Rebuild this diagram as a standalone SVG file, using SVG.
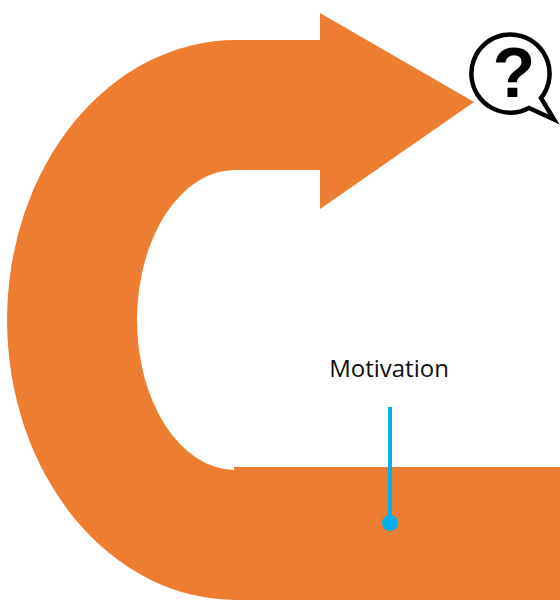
<svg xmlns="http://www.w3.org/2000/svg" width="560" height="606" viewBox="0 0 560 606">
<style>
.band{fill:#ed7d31}
.lead{stroke:#00b0f0;stroke-width:4;fill:none}
.dot{fill:#00b0f0}
.label{font-family:"Open Sans","Liberation Sans",sans-serif;font-size:24px;fill:#111}
</style>
<rect width="560" height="606" fill="#fff"/>
<g id="arrow">
<path class="band" d="M560 467H234V470A98 150 0 0 1 236 170H320V209L474 102L320 13V40H236A229 280 0 0 0 236 600H560Z"/>
</g>
<g id="question-bubble">
<path d="M529 108A39.100 39.100 0 1 1 541 98L554 119.500Z" fill="#fff" stroke="#000" stroke-width="4.500" stroke-linejoin="miter"/>
<text x="514" y="97" text-anchor="middle" font-family="'Liberation Sans',sans-serif" font-weight="700" font-size="70" fill="#000">?</text>
</g>
<g id="connectors">
<path class="lead" d="M390 407V523"/>
<circle class="dot" cx="390" cy="523" r="8"/>
</g>
<g id="motivation">
<text class="label" x="389" y="377" text-anchor="middle">Motivation</text>
</g>
</svg>
